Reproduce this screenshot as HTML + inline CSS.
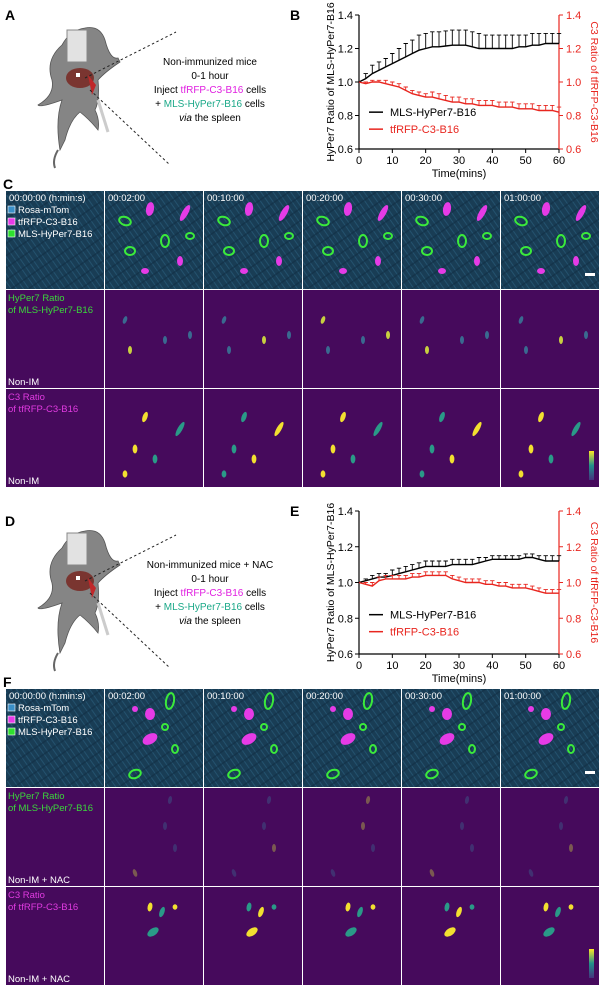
<!DOCTYPE html>
<html><head><meta charset="utf-8">
<style>
html,body{margin:0;padding:0;background:#fff}
svg{display:block;font-family:"Liberation Sans",Arial,sans-serif}
</style></head>
<body>
<svg id="fig" width="600" height="988" viewBox="0 0 600 988" xmlns="http://www.w3.org/2000/svg">
<defs>
<pattern id="tex" width="10" height="10" patternUnits="userSpaceOnUse" patternTransform="rotate(55)">
<rect width="10" height="10" fill="#1f4a66"/>
<path d="M0 2 L10 2 M0 6.5 L10 6.5" stroke="#3a80a8" stroke-width="1" opacity="0.55"/>
<path d="M3 0 L3 10" stroke="#12324a" stroke-width="1.5" opacity="0.6"/>
</pattern>
</defs>
<g id="panelA">
<text x="5" y="20" font-size="14" font-weight="bold">A</text>
</g>
<g id="panelB"></g>
<g id="panelC"></g>
<g id="panelD">
<text x="5" y="526" font-size="14" font-weight="bold">D</text>
</g>
<g id="panelE"></g>
<g id="panelF"></g>
</svg>
<script>
// ---------- chart data ----------
const times = [0,2,4,6,8,10,12,14,16,18,20,22,24,26,28,30,32,34,36,38,40,42,44,46,48,50,52,54,56,58,60];
const bHyper = [1.0,1.02,1.05,1.07,1.09,1.11,1.13,1.15,1.17,1.19,1.20,1.21,1.21,1.215,1.22,1.22,1.22,1.21,1.20,1.20,1.20,1.20,1.20,1.20,1.21,1.21,1.22,1.22,1.23,1.23,1.23];
const bHyperErr = [0.0,0.03,0.05,0.05,0.05,0.06,0.07,0.08,0.08,0.09,0.09,0.09,0.09,0.09,0.09,0.09,0.09,0.09,0.09,0.08,0.08,0.08,0.08,0.08,0.07,0.07,0.07,0.07,0.06,0.06,0.06];
const bC3 = [1.0,0.99,1.0,1.0,0.99,0.98,0.97,0.95,0.93,0.92,0.91,0.91,0.90,0.89,0.88,0.88,0.87,0.87,0.86,0.86,0.86,0.85,0.85,0.85,0.84,0.84,0.84,0.83,0.83,0.83,0.82];
const bC3Err = [0.0,0.01,0.01,0.01,0.02,0.02,0.02,0.02,0.02,0.02,0.02,0.03,0.03,0.03,0.03,0.03,0.03,0.03,0.03,0.03,0.03,0.03,0.03,0.03,0.03,0.03,0.03,0.03,0.03,0.03,0.03];
const eHyper = [1.0,1.01,1.02,1.03,1.03,1.04,1.05,1.06,1.07,1.08,1.09,1.09,1.09,1.09,1.10,1.10,1.10,1.10,1.11,1.12,1.13,1.13,1.13,1.13,1.13,1.14,1.14,1.13,1.12,1.12,1.12];
const eHyperErr = [0.0,0.01,0.02,0.02,0.02,0.03,0.03,0.03,0.03,0.03,0.03,0.03,0.03,0.03,0.03,0.03,0.03,0.03,0.03,0.02,0.02,0.02,0.02,0.02,0.02,0.02,0.02,0.02,0.03,0.03,0.03];
const eC3 = [1.0,0.99,0.98,1.01,1.02,1.02,1.02,1.02,1.03,1.03,1.04,1.04,1.04,1.04,1.02,1.01,1.0,1.0,1.0,0.99,0.99,0.98,0.98,0.97,0.97,0.97,0.96,0.95,0.94,0.94,0.94];
const eC3Err = [0.0,0.01,0.02,0.02,0.02,0.02,0.02,0.02,0.02,0.02,0.02,0.02,0.02,0.02,0.02,0.02,0.02,0.02,0.02,0.02,0.02,0.02,0.02,0.02,0.02,0.02,0.02,0.02,0.02,0.02,0.02];
const xTicks = [0,10,20,30,40,50,60];
const yTicks = [0.6,0.8,1.0,1.2,1.4];
const seriesNames = ["MLS-HyPer7-B16","tfRFP-C3-B16"];

const NS="http://www.w3.org/2000/svg";
function mk(tag,attrs,parent,txt){const e=document.createElementNS(NS,tag);for(const k in attrs)e.setAttribute(k,attrs[k]);if(txt!==undefined)e.textContent=txt;parent.appendChild(e);return e;}

function drawChart(g,top,bottom,letter,hyp,hypErr,c3,c3Err){
  const L=359,R=559;
  const x=t=>L+(t-0)/60*(R-L);
  const y=v=>bottom-(v-0.6)/0.8*(bottom-top);
  let t;
  t=mk('text',{x:290,y:top+5,'font-size':14,'font-weight':'bold'},g,letter);
  
  
  let a=mk('path',{d:`M${L} ${top} V${bottom} H${R}`,stroke:'#000','stroke-width':1.2,fill:'none'},g);
  
  a=mk('path',{d:`M${R} ${top} V${bottom}`,stroke:'#e8261f','stroke-width':1.2,fill:'none'},g);
  
  yTicks.forEach(v=>{
    mk('line',{x1:L-4,x2:L,y1:y(v),y2:y(v),stroke:'#000'},g);
    t=mk('text',{x:L-6,y:y(v)+4,'font-size':11,'text-anchor':'end'},g,v.toFixed(1));
    
    mk('line',{x1:R,x2:R+4,y1:y(v),y2:y(v),stroke:'#e8261f'},g);
    t=mk('text',{x:R+7,y:y(v)+4,'font-size':11,fill:'#e8261f'},g,v.toFixed(1));
    
  });
  xTicks.forEach(v=>{
    mk('line',{x1:x(v),x2:x(v),y1:bottom,y2:bottom+4,stroke:'#000'},g);
    t=mk('text',{x:x(v),y:bottom+15,'font-size':11,'text-anchor':'middle'},g,v);
    
  });
  t=mk('text',{x:(L+R)/2,y:bottom+28,'font-size':11,'text-anchor':'middle'},g,'Time(mins)');
  
  t=mk('text',{x:0,y:0,'font-size':10.5,'text-anchor':'middle',transform:`translate(334 ${(top+bottom)/2}) rotate(-90)`},g,'HyPer7 Ratio of MLS-HyPer7-B16');
  
  t=mk('text',{x:0,y:0,'font-size':10.5,'text-anchor':'middle',fill:'#e8261f',transform:`translate(591 ${(top+bottom)/2}) rotate(90)`},g,'C3 Ratio of tfRFP-C3-B16');
  
  function series(vals,errs,col,name){
    let d='',eb='';
    vals.forEach((v,i)=>{const X=x(times[i]);d+=(i?'L':'M')+X.toFixed(1)+' '+y(v).toFixed(1);
      if(errs[i]>0){const yt=y(v+errs[i]);eb+=`M${X.toFixed(1)} ${y(v).toFixed(1)}V${yt.toFixed(1)}M${(X-2.2).toFixed(1)} ${yt.toFixed(1)}H${(X+2.2).toFixed(1)}`;}});
    let e=mk('path',{d:eb,stroke:col,'stroke-width':0.9,fill:'none'},g);
    
    e=mk('path',{d:d,stroke:col,'stroke-width':1.4,fill:'none'},g);
    
  }
  series(hyp,hypErr,'#000','hyper7-series');
  series(c3,c3Err,'#e8261f','c3-series');
  const ly=y(0.82);
  [['#000',seriesNames[0]],['#e8261f',seriesNames[1]]].forEach((s,i)=>{
    const yy=ly+i*17;
    let l=mk('line',{x1:369,x2:383,y1:yy,y2:yy,stroke:s[0],'stroke-width':1.5},g);
    
    l=mk('text',{x:390,y:yy+4,'font-size':11,fill:s[0]},g,s[1]);
    
  });
}
drawChart(document.getElementById('panelB'),15,149,'B',bHyper,bHyperErr,bC3,bC3Err);
drawChart(document.getElementById('panelE'),511,654,'E',eHyper,eHyperErr,eC3,eC3Err);

// ---------- mouse illustrations & text ----------
function mouse(g,oy,line1){
  let m=mk('g',{},g);
  
  mk('path',{d:`M60 ${oy+150} Q55 ${oy+120} 62 ${oy+100} Q40 ${oy+108} 38 ${oy+105} Q55 ${oy+95} 52 ${oy+80} Q45 ${oy+60} 62 ${oy+45} Q70 ${oy+30} 85 ${oy+28} Q100 ${oy+25} 105 ${oy+40} Q110 ${oy+60} 118 ${oy+58} L120 ${oy+62} Q105 ${oy+72} 98 ${oy+80} Q100 ${oy+100} 95 ${oy+110} Q100 ${oy+120} 98 ${oy+130} Q90 ${oy+120} 80 ${oy+112} Q70 ${oy+120} 65 ${oy+140} Z`,fill:'#858585',stroke:'#555','stroke-width':0.8},m);
  mk('path',{d:`M58 ${oy+150} Q52 ${oy+160} 55 ${oy+168}`,stroke:'#666','stroke-width':2,fill:'none'},m);
  mk('rect',{x:67,y:oy+30,width:20,height:32,fill:'#e2e2e2',stroke:'#888'},m);
  mk('ellipse',{cx:80,cy:oy+78,rx:14,ry:10,fill:'#7a3530'},m);
  mk('path',{d:`M88 ${oy+75} L96 ${oy+85} L92 ${oy+95} Z`,fill:'#c0282a'},m);
  mk('rect',{x:76,y:oy+73,width:4,height:4,fill:'#fff'},m);
  mk('path',{d:`M98 ${oy+100} L108 ${oy+132}`,stroke:'#ccc','stroke-width':3},m);
  mk('path',{d:`M85 ${oy+78} L176 ${oy+32} M90 ${oy+90} L170 ${oy+165}`,stroke:'#222','stroke-width':1,'stroke-dasharray':'2.5 2.5'},m);
  const cx=210;
  let t=mk('text',{x:cx,y:oy+65,'font-size':10,'text-anchor':'middle'},m,line1);
  
  t=mk('text',{x:cx,y:oy+79,'font-size':10,'text-anchor':'middle'},m,'0-1 hour');
  
  t=mk('text',{x:cx,y:oy+93,'font-size':10,'text-anchor':'middle'},m);
  
  mk('tspan',{},t,'Inject ');mk('tspan',{fill:'#e020e0'},t,'tfRFP-C3-B16');mk('tspan',{},t,' cells');
  t=mk('text',{x:cx,y:oy+107,'font-size':10,'text-anchor':'middle'},m);
  
  mk('tspan',{},t,'+ ');mk('tspan',{fill:'#1aa888'},t,'MLS-HyPer7-B16');mk('tspan',{},t,' cells');
  t=mk('text',{x:cx,y:oy+121,'font-size':10,'text-anchor':'middle'},m);
  
  mk('tspan',{'font-style':'italic'},t,'via');mk('tspan',{},t,' the spleen');
}
mouse(document.getElementById('panelA'),0,'Non-immunized mice');
mouse(document.getElementById('panelD'),503,'Non-immunized mice + NAC');

// ---------- image grids ----------
const stamps=['00:00:00 (h:min:s)','00:02:00','00:10:00','00:20:00','00:30:00','01:00:00'];
const colX=[6,105,204,303,402,501];
function grid(g,top,letter,tag,blobs1,blobs3){
  let t=mk('text',{x:3,y:top-2,'font-size':14,'font-weight':'bold'},g,letter);
  
  const rh=98;
  for(let r=0;r<3;r++){
    const y0=top+r*(rh+1);
    for(let c=0;c<6;c++){
      const x0=colX[c];
      const tile=mk('g',{},g);
      
      
      mk('rect',{x:x0,y:y0,width:98,height:rh,fill:r==0?'url(#tex)':'#460a5c'},tile);
      if(r==0){
        mk('rect',{x:x0,y:y0,width:98,height:rh,fill:'#0c2030',opacity:0.3},tile);
        if(c>0) blobs1.forEach(b=>{mk('ellipse',{cx:x0+b[0],cy:y0+b[1],rx:b[2],ry:b[3],fill:b[4]=='g'?'none':'#e63be6',stroke:b[4]=='g'?'#3bea3b':'none','stroke-width':2,transform:`rotate(${b[5]} ${x0+b[0]} ${y0+b[1]})`},tile);});
        t=mk('text',{x:x0+3,y:y0+10,'font-size':9.5,fill:'#fff'},tile,stamps[c]);
        
      } else if(c>0){
        const bl=r==1?blobs1.filter(b=>b[4]=='g'):blobs3;
        bl.forEach((b,i)=>{mk('ellipse',{cx:x0+b[0],cy:y0+b[1],rx:r==1?2:b[2]*0.8,ry:r==1?4:b[3]*0.9,fill:r==1?((i+c)%3==0?'#c8d040':'#3a6a90'):((i+c)%2?'#f2e030':'#2a9a88'),opacity:r==1&&tag=='NAC'?0.4:1,transform:`rotate(${b[5]} ${x0+b[0]} ${y0+b[1]})`},tile);});
      }
    }
    if(r==0){
      [['Rosa-mTom','#3a8fc8'],['tfRFP-C3-B16','#e83be8'],['MLS-HyPer7-B16','#2ee02e']].forEach((s,i)=>{
        let sw=mk('rect',{x:8,y:y0+15+i*12,width:7,height:7,fill:s[1],stroke:'#fff','stroke-width':0.6},g);
        
        sw=mk('text',{x:18,y:y0+22+i*12,'font-size':9.5,fill:'#fff'},g,s[0]);
        
      });
    } else {
      const col=r==1?'#3bd83b':'#e03be0';
      const l1=r==1?'HyPer7 Ratio':'C3 Ratio', l2=r==1?'of MLS-HyPer7-B16':'of tfRFP-C3-B16';
      t=mk('text',{x:8,y:y0+11,'font-size':9.5,fill:col},g,l1);
      
      t=mk('text',{x:8,y:y0+23,'font-size':9.5,fill:col},g,l2);
      
      t=mk('text',{x:8,y:y0+rh-3,'font-size':9.5,fill:'#fff'},g,tag=='NAC'?'Non-IM + NAC':'Non-IM');
      
    }
  }
  let s=mk('rect',{x:585,y:top+82,width:10,height:3,fill:'#fff'},g);
  
  const y3=top+2*(rh+1);
  const grad=mk('linearGradient',{id:'cb'+letter,x1:0,y1:1,x2:0,y2:0},g);
  mk('stop',{offset:0,'stop-color':'#46337e'},grad);mk('stop',{offset:0.5,'stop-color':'#21918c'},grad);mk('stop',{offset:1,'stop-color':'#fde725'},grad);
  s=mk('rect',{x:589,y:y3+62,width:5,height:29,fill:`url(#cb${letter})`},g);
  
}
const blobsC=[[20,30,6,4,'g',20],[45,18,4,7,'m',10],[80,22,3,9,'m',30],[60,50,4,6,'g',0],[25,60,5,4,'g',0],[85,45,4,3,'g',0],[75,70,3,5,'m',0],[40,80,4,3,'m',0]];
const blobs3C=[[40,28,3,6,'m',20],[75,40,3,9,'m',30],[30,60,3,5,'m',0],[50,70,3,5,'m',0],[20,85,3,4,'m',0]];
const blobsF=[[65,12,4,8,'g',10],[45,25,5,6,'m',0],[45,50,8,5,'m',-30],[70,60,3,4,'g',0],[30,85,6,4,'g',-20],[30,20,3,3,'m',0],[60,38,3,3,'g',0]];
const blobs3F=[[45,20,3,5,'m',10],[57,25,3,6,'m',20],[70,20,3,3,'m',0],[48,45,8,4,'m',-35]];
grid(document.getElementById('panelC'),191,'C','',blobsC,blobs3C);
grid(document.getElementById('panelF'),689,'F','NAC',blobsF,blobs3F);
</script>
</body></html>
